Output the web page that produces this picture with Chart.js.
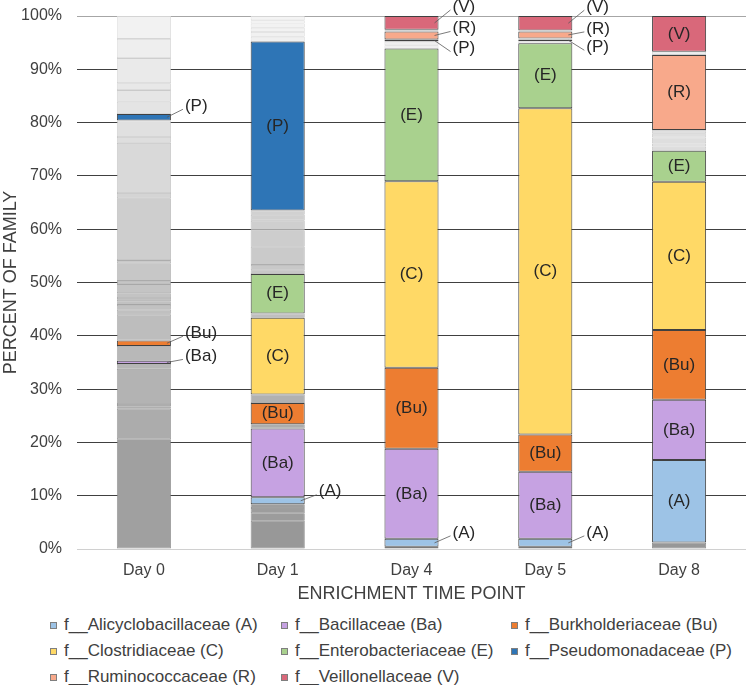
<!DOCTYPE html>
<html>
<head>
<meta charset="utf-8">
<script src="https://cdn.jsdelivr.net/npm/chart.js@4.4.0/dist/chart.umd.min.js"></script>
<style>
  body { margin: 0; background: #fff; font-family: "Liberation Sans", Arial, sans-serif; }
  #wrap { position: relative; width: 746px; height: 685px; }
  #chart { position: absolute; left: 0; top: 0; }
  .leg { position: absolute; font-size: 17px; color: #404040; white-space: nowrap; line-height: 20px; }
  .leg i { position: absolute; left: -14px; top: 7px; width: 5px; height: 5px; border: 1px solid #7f7f7f; }
</style>
</head>
<body>
<div id="wrap">
  <canvas id="chart" width="746" height="610"></canvas>
</div>
<script>
// Catégories (points de prélèvement)
const dayLabels = ['Day 0', 'Day 1', 'Day 4', 'Day 5', 'Day 8'];

// Familles nommées
const familyKeys = ['A', 'Ba', 'Bu', 'C', 'E', 'P', 'R', 'V'];
const familyNames = ['f__Alicyclobacillaceae', 'f__Bacillaceae', 'f__Burkholderiaceae', 'f__Clostridiaceae',
                     'f__Enterobacteriaceae', 'f__Pseudomonadaceae', 'f__Ruminococcaceae', 'f__Veillonellaceae'];
const familyColors = ['#9DC3E6', '#C6A2E2', '#ED7D31', '#FFD966', '#A9D18E', '#2E75B6', '#F8A98B', '#D9687A'];

// Pourcentages par jour (Day 0, 1, 4, 5, 8)
const famA  = [0,    1.3,  1.5,  1.5,  15.5];
const famBa = [0.6,  12.9, 16.9, 12.6, 11.3];
const famBu = [1.0,  4.0,  15.2, 7.0,  13.1];
const famC  = [0.15, 14.4, 35.0, 61.2, 27.8];
const famE  = [0,    7.4,  24.9, 12.2, 5.8];
const famP  = [1.2,  31.7, 0.4,  0.3,  0];
const famR  = [0,    0,    1.5,  1.3,  14.1];
const famV  = [0,    0,    2.6,  2.7,  6.7];

// Autres familles (gris), une liste par jour, du bas vers le haut
const gapBelowA = [[20.6, 5.7, 0.5, 0.4, 6.6, 0.9], [5.3, 1.4, 1.0, 0.7], [0.4], [0.4], [1.2]];
const gapBaBu   = [[2.8], [0.8], [], [], []];
const gapBuC    = [[4.9], [1.6], [], [], []];
const gapCE     = [[0.75, 0.9, 0.7, 0.6, 0.9, 1.7, 0.6, 3.3, 0.6, 11.6, 1.0, 9.4, 1.1, 3.1], [0.8], [], [], []];
const gapEP     = [[], [0.7, 1.0, 3.4, 3.1, 1.8, 1.1, 0.8], [0.6, 0.7], [0.4], [0.8, 0.6, 1.1, 0.8, 0.6]];
const gapPR     = [[2.3, 2.2, 1.3, 4.7, 3.6, 4.3], [0.9, 0.9, 0.8, 0.8, 0.6, 0.8], [], [0.2], []];
const gapRV     = [[], [], [0.3], [0.2], [0.6]];

// Décalage vertical des étiquettes extérieures (px)
const calloutShift = {
    '0-P': -11, '0-Bu': -10, '0-Ba': -6, '1-A': -9,
    '2-V': -16, '2-R': -7, '2-P': 8, '2-A': -10,
    '3-V': -16, '3-R': -6, '3-P': 7, '3-A': -10
};

const FONT = '"Liberation Sans", Arial, sans-serif';

// Ordre d'empilement, du bas vers le haut
const stackOrder = [
    ['gap', gapBelowA], ['fam', 0, famA], ['fam', 1, famBa], ['gap', gapBaBu], ['fam', 2, famBu],
    ['gap', gapBuC], ['fam', 3, famC], ['gap', gapCE], ['fam', 4, famE], ['gap', gapEP],
    ['fam', 5, famP], ['gap', gapPR], ['fam', 6, famR], ['gap', gapRV], ['fam', 7, famV]
];

function buildDatasets() {
    const cumul = dayLabels.map(() => 0);
    const datasets = [];
    stackOrder.forEach(entry => {
        if (entry[0] === 'fam') {
            const idx = entry[1];
            const values = entry[2];
            datasets.push({
                label: familyKeys[idx],
                famKey: familyKeys[idx],
                data: values.map(v => v > 0 ? v : null),
                backgroundColor: familyColors[idx],
                borderColor: '#404040',
                borderWidth: 1,
                borderSkipped: false
            });
            values.forEach((v, i) => { cumul[i] += v; });
        } else {
            const gap = entry[1];
            const depth = Math.max(...gap.map(g => g.length));
            for (let k = 0; k < depth; k++) {
                const data = gap.map(g => g[k] !== undefined ? g[k] : null);
                const fills = [];
                const lines = [];
                data.forEach((v, i) => {
                    const mid = cumul[i] + (v || 0) / 2;
                    const l = Math.round(150 + 94 * mid / 100);
                    fills.push(`rgb(${l},${l},${l})`);
                    const d = l - 28;
                    lines.push(`rgb(${d},${d},${d})`);
                    cumul[i] += (v || 0);
                });
                datasets.push({
                    label: 'other',
                    data: data,
                    backgroundColor: fills,
                    borderColor: lines,
                    borderWidth: 0.8,
                    borderSkipped: false
                });
            }
        }
    });
    return datasets;
}

// Étiquettes des segments : à l'intérieur ou à l'extérieur avec un trait
const segmentLabels = {
    id: 'segmentLabels',
    afterDatasetsDraw(chart) {
        const ctx = chart.ctx;
        ctx.save();
        ctx.font = '17px ' + FONT;
        ctx.fillStyle = '#262626';
        ctx.textBaseline = 'middle';
        chart.data.datasets.forEach((ds, di) => {
            if (!ds.famKey) return;
            const meta = chart.getDatasetMeta(di);
            meta.data.forEach((el, i) => {
                const v = ds.data[i];
                if (v === null || v < 0.25) return;
                const text = '(' + ds.famKey + ')';
                const cy = (el.y + el.base) / 2;
                if (v >= 3) {
                    ctx.textAlign = 'center';
                    ctx.fillText(text, el.x, cy);
                } else {
                    const right = el.x + el.width / 2;
                    const ly = cy + (calloutShift[i + '-' + ds.famKey] || -10);
                    ctx.strokeStyle = '#595959';
                    ctx.lineWidth = 0.8;
                    ctx.beginPath();
                    ctx.moveTo(right - 4, cy);
                    ctx.lineTo(right + 12, ly + 3);
                    ctx.stroke();
                    ctx.textAlign = 'left';
                    ctx.fillText(text, right + 14, ly);
                }
            });
        });
        ctx.restore();
    }
};

const chart = new Chart(document.getElementById('chart'), {
    type: 'bar',
    data: {
        labels: dayLabels,
        datasets: buildDatasets()
    },
    options: {
        responsive: false,
        animation: false,
        layout: { padding: { top: 16, left: 0, right: 0, bottom: 0 } },
        datasets: {
            bar: { barPercentage: 0.404, categoryPercentage: 1 }
        },
        scales: {
            x: {
                stacked: true,
                grid: { display: false, drawTicks: false },
                border: { display: false },
                ticks: { color: '#404040', font: { family: FONT, size: 16 }, padding: 12 },
                title: {
                    display: true,
                    text: 'ENRICHMENT TIME POINT',
                    color: '#404040',
                    font: { family: FONT, size: 18 },
                    padding: { top: 0, bottom: 5 }
                },
                afterFit: scale => { scale.height = 61; }
            },
            y: {
                stacked: true,
                min: 0,
                max: 100,
                grid: {
                    drawTicks: false,
                    lineWidth: 1,
                    color: c => c.tick.value === 0 ? '#D0D0D0' : (c.tick.value === 100 ? '#A6A6A6' : '#404040')
                },
                border: { display: false },
                ticks: {
                    stepSize: 10,
                    padding: 15,
                    color: '#404040',
                    font: { family: FONT, size: 16 },
                    callback: v => v + '%'
                },
                title: {
                    display: true,
                    text: 'PERCENT OF FAMILY',
                    color: '#404040',
                    font: { family: FONT, size: 18 },
                    padding: { top: 0, bottom: 0 }
                },
                afterFit: scale => {
                    scale.width = 77;
                    scale.paddingTop = 9;
                    scale.paddingBottom = 0;
                }
            }
        },
        plugins: {
            legend: { display: false },
            tooltip: { enabled: false }
        }
    },
    plugins: [segmentLabels]
});

// Légende HTML en trois colonnes
const legendCols = [64, 295, 525];
const legendRows = [615, 641, 667];
const wrap = document.getElementById('wrap');
familyKeys.forEach((key, i) => {
    const item = document.createElement('div');
    item.className = 'leg';
    item.style.left = legendCols[i % 3] + 'px';
    item.style.top = legendRows[Math.floor(i / 3)] + 'px';
    item.innerHTML = `<i style="background:${familyColors[i]}"></i>${familyNames[i]} (${key})`;
    wrap.appendChild(item);
});
</script>
</body>
</html>
